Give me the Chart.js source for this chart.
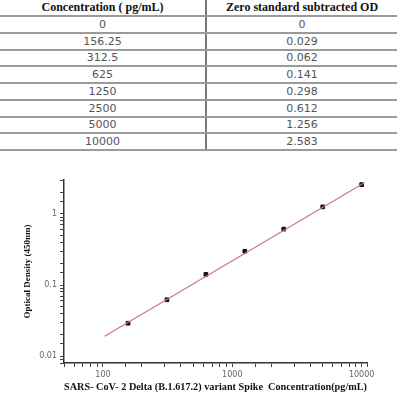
<!DOCTYPE html>
<html>
<head>
<meta charset="utf-8">
<script src="https://cdn.jsdelivr.net/npm/chart.js@4"></script>
<style>
       body { margin: 0; background: #fff; width: 397px; height: 400px; overflow: hidden; position: relative; }
       table { position: absolute; left: 0; top: 0; width: 397px; border-collapse: collapse; }
       td, th { padding: 0; text-align: center; border-bottom: 2px solid #9a9a9a; }
       th { height: 14px; line-height: 14px; font: bold 12px "Liberation Serif", serif; color: #111; }
       td { height: 14.75px; line-height: 14px; font: 11px "DejaVu Sans", sans-serif; color: #555; }
       td:first-child, th:first-child { width: 205px; border-right: 2px solid #777; }
       #wrap { position: absolute; left: 0; top: 165px; width: 397px; height: 235px; }
</style>
</head>
<body>
<table id="tbl"></table>
<div id="wrap"><canvas id="c"></canvas></div>
<script>

const HEADERS = ["Concentration ( pg/mL)", "Zero standard subtracted OD"]
const concLabels = ["0", "156.25", "312.5", "625", "1250", "2500", "5000", "10000"]
const odLabels = ["0", "0.029", "0.062", "0.141", "0.298", "0.612", "1.256", "2.583"]

const conc = [0, 156.25, 312.5, 625, 1250, 2500, 5000, 10000]
const od = [0, 0.029, 0.062, 0.141, 0.298, 0.612, 1.256, 2.583]

// fitted line ends
const fitX = [103, 10500]
const fitY = [0.019, 2.75]

const xTitle = "SARS- CoV- 2 Delta (B.1.617.2) variant Spike  Concentration(pg/mL)"
const yTitle = "Optical Density (450nm)"


function buildTable() {

       const t = document.getElementById("tbl")

       let html = "<tr><th>" + HEADERS[0] + "</th><th>" + HEADERS[1] + "</th></tr>"

       concLabels.forEach((c, i) => {
              html += "<tr><td>" + c + "</td><td>" + odLabels[i] + "</td></tr>"
       })

       t.innerHTML = html

}


function drawChart() {

       const pts = []
       conc.forEach((x, i) => {
              if (x > 0) pts.push({ x: x, y: od[i] })
       })

       const line = fitX.map((x, i) => ({ x: x, y: fitY[i] }))

       const isMajor = v => Math.abs(Math.log10(v) - Math.round(Math.log10(v))) < 1e-6

       new Chart(document.getElementById("c"), {
              type: "scatter",
              data: {
                     datasets: [
                            {
                                   data: line,
                                   showLine: true,
                                   borderColor: "#c97a7a",
                                   borderWidth: 1.2,
                                   pointRadius: 0
                            },
                            {
                                   data: pts,
                                   pointStyle: "rect",
                                   pointRadius: 2.6,
                                   backgroundColor: "#111",
                                   borderColor: "#111"
                            }
                     ]
              },
              options: {
                     responsive: false,
                     animation: false,
                     layout: { padding: { top: 15, right: 30, left: 0, bottom: 0 } },
                     plugins: { legend: { display: false }, tooltip: { enabled: false } },
                     scales: {
                            x: {
                                   type: "logarithmic",
                                   min: 50,
                                   max: 11000,
                                   afterFit: s => { s.height = 37 },
                                   border: { color: "#333", width: 1.5 },
                                   grid: {
                                          drawOnChartArea: false,
                                          tickLength: 4,
                                          tickColor: "#444"
                                   },
                                   ticks: {
                                          autoSkip: false,
                                          maxRotation: 0,
                                          padding: 3,
                                          color: "#666",
                                          font: { family: "DejaVu Sans", size: 8 },
                                          callback: v => isMajor(v) ? String(Math.round(v)) : ""
                                   },
                                   title: {
                                          display: true,
                                          text: xTitle,
                                          color: "#111",
                                          padding: { top: 2, bottom: 6 },
                                          font: { family: "Liberation Serif", size: 10.5, weight: "bold" }
                                   }
                            },
                            y: {
                                   type: "logarithmic",
                                   min: 0.008,
                                   max: 3,
                                   afterFit: s => { s.width = 64 },
                                   border: { color: "#333", width: 1.5 },
                                   grid: {
                                          drawOnChartArea: false,
                                          tickLength: 4,
                                          tickColor: "#444"
                                   },
                                   ticks: {
                                          autoSkip: false,
                                          padding: 3,
                                          color: "#666",
                                          font: { family: "DejaVu Sans", size: 8 },
                                          callback: v => isMajor(v) ? String(+v.toPrecision(1)) : ""
                                   },
                                   title: {
                                          display: true,
                                          text: yTitle,
                                          color: "#111",
                                          padding: { top: 22, bottom: 0 },
                                          font: { family: "Liberation Serif", size: 9, weight: "bold" }
                                   }
                            }
                     }
              }
       })

}

document.getElementById("c").width = 397
document.getElementById("c").height = 235

buildTable()
drawChart()

</script>
</body>
</html>
